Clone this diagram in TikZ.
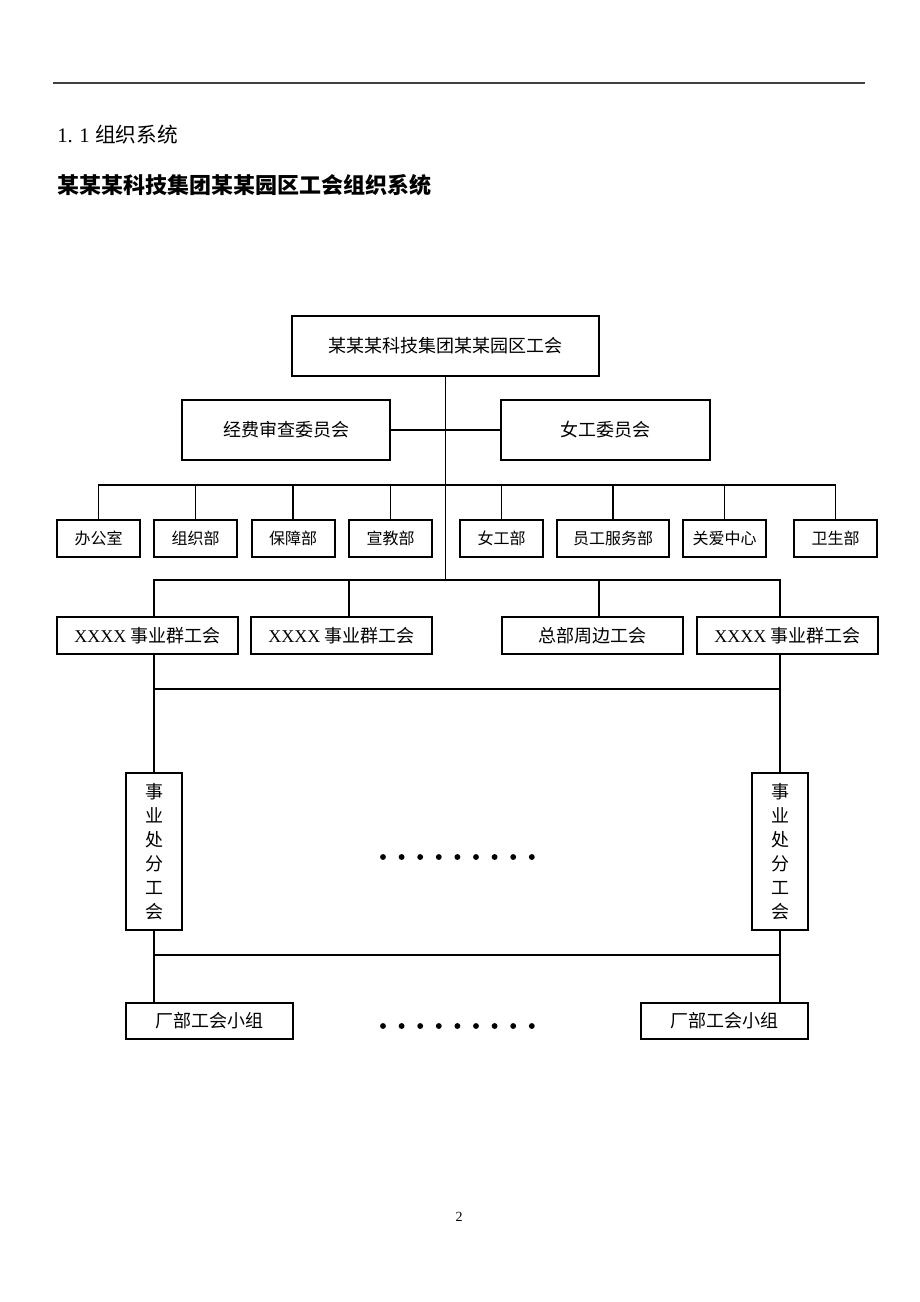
\documentclass[tikz,border=0pt]{standalone}
\usepackage{fontspec}
\setmainfont{Liberation Serif}
\newfontfamily\cjk{Noto Sans CJK SC}
\usetikzlibrary{positioning,calc}

\begin{document}
\begin{tikzpicture}[
    x=0.75pt, y=-0.75pt,
    box/.style={rectangle, draw=black, line width=1.5pt, inner sep=0pt,
      minimum height=45pt, text centered, font=\cjk\fontsize{13.5}{16}\selectfont},
    dept/.style={box, minimum width=62.25pt, minimum height=27.75pt,
      font=\cjk\fontsize{12}{14}\selectfont},
    group/.style={box, minimum width=135.75pt, minimum height=27.75pt},
    vbox/.style={box, minimum width=42pt, minimum height=117.75pt, align=center,
      font=\cjk\fontsize{13.5}{18}\selectfont},
    small/.style={box, minimum width=125.25pt, minimum height=27pt},
    link/.style={line width=1.4pt},
    dot/.style={fill=black},
  ]
    \useasboundingbox (0,0) rectangle (920,1302);

    % Page header
    \coordinate (rule1) at (53,83);
    \coordinate (rule2) at (865,83);
    \draw[black!75, line width=1pt] (rule1) -- (rule2);
    \node[anchor=west, inner sep=0pt, font=\fontsize{15.5}{18}\selectfont] (sec) at (57,135)
      {1.\hspace{5pt}1\hspace{4pt}{\cjk 组织系统}};
    \node[anchor=west, inner sep=0pt, font=\cjk\bfseries\fontsize{16.5}{20}\selectfont] (title) at (57,185)
      {某某某科技集团某某园区工会组织系统};

    % Nodes
    \node[box, minimum width=230.25pt] (union) at (445.5,346) {某某某科技集团某某园区工会};
    \node[box, minimum width=156pt] (audit) at (286,430) {经费审查委员会};
    \node[box, minimum width=156.75pt] (women) at (605.5,430) {女工委员会};

    % Departments
    \node[dept] (d1) at (98.5,538.5) {办公室};
    \node[dept] (d2) at (195.5,538.5) {组织部};
    \node[dept] (d3) at (293,538.5) {保障部};
    \node[dept] (d4) at (390.5,538.5) {宣教部};
    \node[dept] (d5) at (501.5,538.5) {女工部};
    \node[dept, minimum width=84pt] (d6) at (613,538.5) {员工服务部};
    \node[dept] (d7) at (724.5,538.5) {关爱中心};
    \node[dept] (d8) at (835.5,538.5) {卫生部};

    % Business group unions
    \node[group] (g1) at (147.5,635.5) {{\rmfamily XXXX} 事业群工会};
    \node[group] (g2) at (341.5,635.5) {{\rmfamily XXXX} 事业群工会};
    \node[group] (g3) at (592,635.5) {总部周边工会};
    \node[group] (g4) at (787.5,635.5) {{\rmfamily XXXX} 事业群工会};

    % Branch unions and workshop groups
    \node[vbox] (v1) at (154,851.5) {事\\业\\处\\分\\工\\会};
    \node[vbox] (v2) at (780,851.5) {事\\业\\处\\分\\工\\会};
    \node[small] (b1) at (209.5,1021) {厂部工会小组};
    \node[small] (b2) at (724.5,1021) {厂部工会小组};

    \node[inner sep=0pt, font=\fontsize{10.5}{12}\selectfont] (pageno) at (459,1217) {2};

    % Bus lines
    \coordinate (bus1) at (445.5,485);
    \coordinate (bus2) at (445.5,580);
    \coordinate (bus3) at (445.5,689);
    \coordinate (bus4) at (445.5,955);

    % Arrows
    \draw[link] (union.south) -- (bus2);
    \draw[link] (audit.east) -- (women.west);
    \foreach \d in {d1,d2,d3,d4,d5,d6,d7,d8}
      \draw[link] (\d.north) |- (bus1);
    \draw[link] (bus2) -| (g1.north -| v1);
    \draw[link] (bus2) -| ([xshift=5.6pt]g2.north);
    \draw[link] (bus2) -| ([xshift=5.25pt]g3.north);
    \draw[link] (bus2) -| (g4.north -| v2);
    \draw[link] (g1.south -| v1) -- (v1.north);
    \draw[link] (g4.south -| v2) -- (v2.north);
    \draw[link] (bus3 -| v1) -- (bus3 -| v2);
    \draw[link] (v1.south) -- (b1.north -| v1);
    \draw[link] (v2.south) -- (b2.north -| v2);
    \draw[link] (bus4 -| v1) -- (bus4 -| v2);

    % Ellipsis dots
    \foreach \i in {0,...,8} {
      \fill[dot] (383+\i*18.6,857) circle (2.2pt);
      \fill[dot] (383+\i*18.6,1026) circle (2.2pt);
    }
  \end{tikzpicture}
\end{document}
